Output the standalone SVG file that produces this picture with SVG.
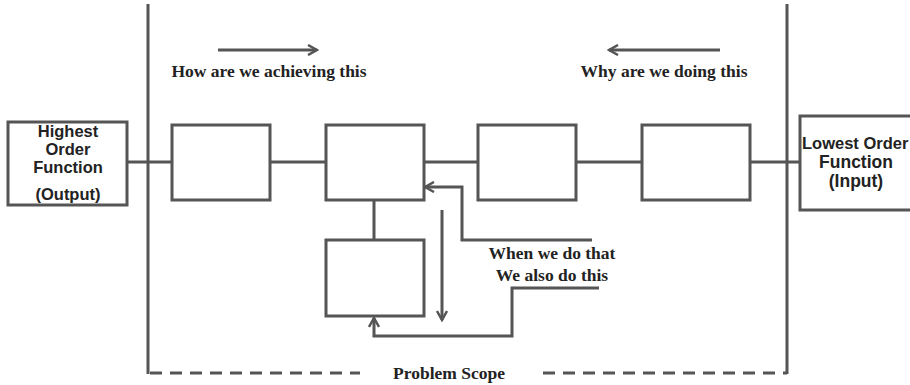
<svg xmlns="http://www.w3.org/2000/svg" width="910" height="385" viewBox="0 0 910 385">
<defs>
<marker id="chev" viewBox="0 0 12 12" refX="10" refY="6" markerWidth="12" markerHeight="12" markerUnits="userSpaceOnUse" orient="auto">
<path d="M1,1 L10,6 L1,11" fill="none" stroke="#555" stroke-width="2.5"/>
</marker>
</defs>
<style>
.ln{stroke:#555;stroke-width:3;fill:none}
.bx{stroke:#555;stroke-width:3;fill:#fff}
.sans{font-family:"Liberation Sans",Arial,sans-serif;font-weight:bold;font-size:16.5px;fill:#222;text-anchor:middle}
.big{font-size:17.5px}
.serif{font-family:"Liberation Serif","Times New Roman",serif;font-weight:bold;font-size:17.5px;fill:#222;text-anchor:middle}
</style>
<rect width="910" height="385" fill="#fff"/>
<g id="connectors">
<line class="ln" x1="148" y1="4" x2="148" y2="374"/>
<line class="ln" x1="787" y1="4" x2="787" y2="374"/>
<line class="ln" x1="150" y1="373" x2="360" y2="373" stroke-dasharray="12,8"/>
<line class="ln" x1="543" y1="373" x2="787" y2="373" stroke-dasharray="12,8"/>
<line class="ln" x1="126" y1="162" x2="800" y2="162"/>
<line class="ln" x1="374" y1="200" x2="374" y2="240"/>
<line class="ln" x1="218" y1="50" x2="317" y2="50" marker-end="url(#chev)"/>
<line class="ln" x1="720" y1="50" x2="609" y2="50" marker-end="url(#chev)"/>
<polyline class="ln" points="592,240 462,240 462,187 425,187" marker-end="url(#chev)"/>
<line class="ln" x1="442" y1="210" x2="442" y2="320" marker-end="url(#chev)"/>
<polyline class="ln" points="599,288 512,288 512,336 374,336 374,318" marker-end="url(#chev)"/>
</g>
<g id="highest">
<rect class="bx" x="8" y="122" width="119" height="83"/>
<text class="sans" x="68" y="137">Highest</text>
<text class="sans" x="68" y="155">Order</text>
<text class="sans" x="68" y="173">Function</text>
<text class="sans" x="68" y="200">(Output)</text>
</g>
<g id="box1"><rect class="bx" x="172" y="125" width="98" height="75"/></g>
<g id="box2"><rect class="bx" x="326" y="125" width="98" height="75"/></g>
<g id="box3"><rect class="bx" x="478" y="125" width="98" height="75"/></g>
<g id="box4"><rect class="bx" x="642" y="125" width="108" height="75"/></g>
<g id="box5"><rect class="bx" x="326" y="240" width="98" height="76"/></g>
<g id="lowest">
<rect class="bx" x="800" y="116" width="120" height="94"/>
<text class="sans" x="802" y="149" style="text-anchor:start">Lowest Order</text>
<text class="sans big" x="856" y="168">Function</text>
<text class="sans big" x="856" y="187">(Input)</text>
</g>
<g id="labels">
<text class="serif" x="269" y="77">How are we achieving this</text>
<text class="serif" x="664" y="77">Why are we doing this</text>
<text class="serif" x="552" y="259">When we do that</text>
<text class="serif" x="552" y="281">We also do this</text>
<text class="serif" x="449" y="379">Problem Scope</text>
</g>
</svg>
